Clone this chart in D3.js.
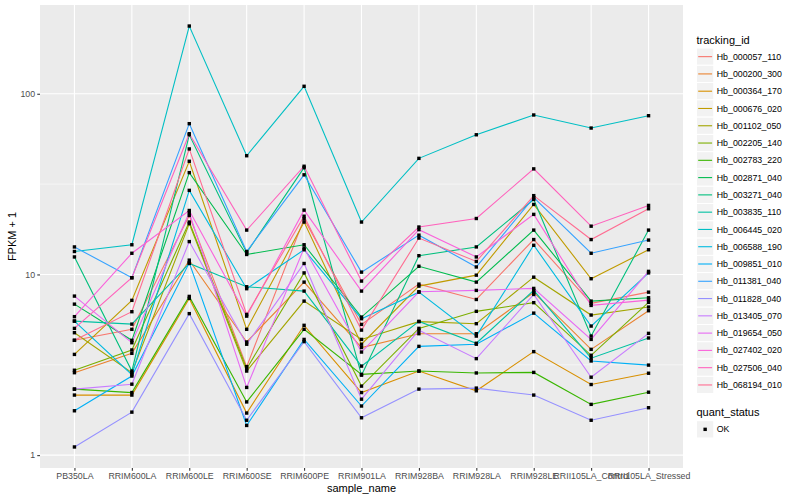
<!DOCTYPE html>
<html lang="en">
<head>
    <meta charset="UTF-8">
    <title>FPKM by sample</title>
    <script src="https://d3js.org/d3.v7.min.js"></script>
    <style>
        body { margin: 0; background: #fff; }
        svg { font-family: "Liberation Sans", Arial, sans-serif; display: block; }
    </style>
</head>
<body>
    <div id="chart"></div>

    <script>
        // Samples on the x axis
        const samples = ["PB350LA", "RRIM600LA", "RRIM600LE", "RRIM600SE", "RRIM600PE", "RRIM901LA",
            "RRIM928BA", "RRIM928LA", "RRIM928LE", "RRII105LA_Control", "RRII105LA_Stressed"];

        // FPKM + 1 per tracking id (one value per sample)
        const hb_000057_110 = [4.32, 4.97, 21.2, 3.09, 20.3, 5.29, 8.84, 7.27, 15.6, 6.92, 7.98];
        const hb_000200_300 = [2.86, 3.66, 12.0, 4.23, 9.07, 3.94, 4.70, 4.70, 7.95, 3.85, 6.30];
        const hb_000364_170 = [2.15, 2.15, 7.37, 1.71, 5.23, 2.22, 2.92, 2.27, 3.74, 2.46, 2.84];
        const hb_000676_020 = [3.61, 7.19, 42.3, 4.97, 19.5, 4.11, 8.62, 9.91, 24.4, 9.47, 13.7];
        const hb_001102_050 = [4.76, 2.86, 19.1, 2.92, 7.12, 4.37, 5.48, 5.34, 9.66, 5.96, 6.60];
        const hb_002205_140 = [2.95, 3.82, 19.5, 3.01, 10.2, 2.41, 5.03, 6.25, 6.98, 3.57, 7.01];
        const hb_002783_220 = [2.32, 2.22, 7.56, 1.97, 4.97, 2.80, 2.92, 2.85, 2.87, 1.91, 2.23];
        const hb_002871_040 = [6.85, 4.32, 36.6, 12.9, 14.6, 5.81, 11.1, 9.07, 17.6, 7.12, 7.43];
        const hb_003271_040 = [12.5, 2.92, 59.3, 13.2, 39.0, 2.77, 12.7, 14.2, 26.0, 4.56, 17.6];
        const hb_003835_110 = [5.52, 5.31, 11.5, 8.55, 8.09, 3.11, 5.50, 4.16, 8.16, 3.44, 4.45];
        const hb_006445_020 = [13.4, 14.6, 237, 45.4, 110, 19.5, 43.9, 59.3, 76.3, 64.6, 75.6];
        const hb_006588_190 = [5.52, 2.79, 29.2, 8.34, 13.7, 5.69, 7.98, 4.56, 14.5, 5.18, 10.2];
        const hb_009851_010 = [1.76, 2.74, 11.6, 1.46, 4.37, 1.87, 4.00, 4.11, 6.11, 3.32, 3.15];
        const hb_011381_040 = [14.2, 9.59, 68.3, 13.4, 35.6, 10.3, 16.5, 11.0, 26.6, 13.1, 15.5];
        const hb_011828_040 = [1.11, 1.73, 6.07, 1.56, 4.25, 1.61, 2.32, 2.35, 2.15, 1.56, 1.83];
        const hb_013405_070 = [2.32, 2.47, 15.2, 4.11, 11.5, 2.04, 4.91, 3.42, 7.75, 2.70, 4.72];
        const hb_019654_050 = [7.59, 4.19, 22.0, 2.37, 14.0, 3.72, 8.02, 8.16, 8.37, 4.37, 10.4];
        const hb_027402_020 = [5.84, 13.1, 22.6, 5.88, 22.7, 8.09, 17.7, 12.5, 21.5, 6.74, 7.21];
        const hb_027506_040 = [5.03, 9.59, 60.1, 17.6, 39.7, 9.19, 18.3, 20.4, 38.4, 18.5, 24.1];
        const hb_068194_010 = [4.32, 6.22, 49.5, 6.01, 21.0, 4.92, 15.9, 11.8, 27.3, 15.6, 23.1];

        const trackingIds = ["Hb_000057_110", "Hb_000200_300", "Hb_000364_170", "Hb_000676_020",
            "Hb_001102_050", "Hb_002205_140", "Hb_002783_220", "Hb_002871_040", "Hb_003271_040",
            "Hb_003835_110", "Hb_006445_020", "Hb_006588_190", "Hb_009851_010", "Hb_011381_040",
            "Hb_011828_040", "Hb_013405_070", "Hb_019654_050", "Hb_027402_020", "Hb_027506_040",
            "Hb_068194_010"];
        const seriesValues = [hb_000057_110, hb_000200_300, hb_000364_170, hb_000676_020,
            hb_001102_050, hb_002205_140, hb_002783_220, hb_002871_040, hb_003271_040,
            hb_003835_110, hb_006445_020, hb_006588_190, hb_009851_010, hb_011381_040,
            hb_011828_040, hb_013405_070, hb_019654_050, hb_027402_020, hb_027506_040,
            hb_068194_010];

        const yTicks = [1, 10, 100];
        const yMinorTicks = [Math.sqrt(10), Math.sqrt(1000)];
        const quantStatus = ["OK"];

        // ggplot default hue palette for 20 groups
        const palette = ["#F8766D", "#EA8331", "#D89000", "#C09B00", "#A3A500", "#7CAE00", "#39B600",
            "#00BB4E", "#00BF7D", "#00C1A3", "#00BFC4", "#00BAE0", "#00B0F6", "#35A2FF", "#9590FF",
            "#C77CFF", "#E76BF3", "#FA62DB", "#FF62BC", "#FF6C91"];

        function drawChart() {
            const width = 800, height = 500;
            const panel = {left: 40, right: 683, top: 5, bottom: 468};

            const svg = d3.select("#chart").append("svg")
                .attr("width", width)
                .attr("height", height);

            const series = trackingIds.map((id, i) => ({
                id: id,
                color: palette[i],
                values: seriesValues[i].map((v, j) => ({sample: samples[j], value: v}))
            }));

            // x: discrete, ggplot expands by 0.6 of a step on each side
            const x = d3.scalePoint()
                .domain(samples)
                .range([panel.left, panel.right])
                .padding(0.6);

            // y: log10 with 5% expansion
            const all = seriesValues.flat();
            const lo = Math.log10(d3.min(all)), hi = Math.log10(d3.max(all));
            const pad = (hi - lo) * 0.05;
            const y = d3.scaleLog()
                .domain([Math.pow(10, lo - pad), Math.pow(10, hi + pad)])
                .range([panel.bottom, panel.top]);

            // panel background + grid
            svg.append("rect")
                .attr("x", panel.left).attr("y", panel.top)
                .attr("width", panel.right - panel.left)
                .attr("height", panel.bottom - panel.top)
                .attr("fill", "#EBEBEB");

            svg.append("g").selectAll("line")
                .data(yMinorTicks)
                .enter().append("line")
                .attr("x1", panel.left).attr("x2", panel.right)
                .attr("y1", d => y(d)).attr("y2", d => y(d))
                .attr("stroke", "#fff").attr("stroke-width", 0.55);

            svg.append("g").selectAll("line")
                .data(yTicks)
                .enter().append("line")
                .attr("x1", panel.left).attr("x2", panel.right)
                .attr("y1", d => y(d)).attr("y2", d => y(d))
                .attr("stroke", "#fff").attr("stroke-width", 1.1);

            svg.append("g").selectAll("line")
                .data(samples)
                .enter().append("line")
                .attr("x1", d => x(d)).attr("x2", d => x(d))
                .attr("y1", panel.top).attr("y2", panel.bottom)
                .attr("stroke", "#fff").attr("stroke-width", 1.1);

            // lines
            const line = d3.line()
                .x(d => x(d.sample))
                .y(d => y(d.value));

            svg.append("g").selectAll("path")
                .data(series)
                .enter().append("path")
                .attr("d", d => line(d.values))
                .attr("fill", "none")
                .attr("stroke", d => d.color)
                .attr("stroke-width", 1.1);

            // points (black squares, quant_status = OK)
            const pts = series.flatMap(s => s.values);
            const ps = 3.4;
            svg.append("g").selectAll("rect")
                .data(pts)
                .enter().append("rect")
                .attr("x", d => x(d.sample) - ps / 2)
                .attr("y", d => y(d.value) - ps / 2)
                .attr("width", ps).attr("height", ps)
                .attr("fill", "#000");

            // axes
            const yAxis = svg.append("g")
                .attr("transform", `translate(${panel.left},0)`)
                .call(d3.axisLeft(y).tickValues(yTicks).tickFormat(d3.format("d")).tickSize(2.75).tickPadding(2.2));
            const xAxis = svg.append("g")
                .attr("transform", `translate(0,${panel.bottom})`)
                .call(d3.axisBottom(x).tickSize(2.75).tickPadding(2.2));

            [yAxis, xAxis].forEach(ax => {
                ax.select(".domain").remove();
                ax.selectAll(".tick line").attr("stroke", "#333333").attr("stroke-width", 1.07);
                ax.selectAll(".tick text")
                    .attr("fill", "#4D4D4D")
                    .style("font-size", "8.8px")
                    .style("font-family", "'Liberation Sans', Arial, sans-serif");
            });

            // axis titles
            svg.append("text")
                .attr("x", (panel.left + panel.right) / 2)
                .attr("y", 491.5)
                .attr("text-anchor", "middle")
                .style("font-size", "11px")
                .text("sample_name");

            svg.append("text")
                .attr("transform", `translate(15.5,${(panel.top + panel.bottom) / 2}) rotate(-90)`)
                .attr("text-anchor", "middle")
                .style("font-size", "11px")
                .text("FPKM + 1");

            // legend: tracking_id
            const keySize = 17.28;
            const legX = 696.5;
            const legend = svg.append("g");
            legend.append("text")
                .attr("x", legX).attr("y", 43.5)
                .style("font-size", "11px")
                .text("tracking_id");

            const keys = legend.selectAll("g.key")
                .data(series)
                .enter().append("g")
                .attr("class", "key")
                .attr("transform", (d, i) => `translate(${legX},${48 + i * keySize})`);
            keys.append("rect")
                .attr("width", keySize).attr("height", keySize)
                .attr("fill", "#F2F2F2").attr("stroke", "#fff").attr("stroke-width", 1);
            keys.append("line")
                .attr("x1", 1.7).attr("x2", keySize - 1.7)
                .attr("y1", keySize / 2).attr("y2", keySize / 2)
                .attr("stroke", d => d.color).attr("stroke-width", 1.1);
            keys.append("text")
                .attr("x", keySize + 3).attr("y", keySize / 2)
                .attr("dy", "0.35em")
                .style("font-size", "8.8px")
                .text(d => d.id);

            // legend: quant_status
            legend.append("text")
                .attr("x", legX).attr("y", 416)
                .style("font-size", "11px")
                .text("quant_status");
            const qk = legend.selectAll("g.qkey")
                .data(quantStatus)
                .enter().append("g")
                .attr("class", "qkey")
                .attr("transform", (d, i) => `translate(${legX},${420.7 + i * keySize})`);
            qk.append("rect")
                .attr("width", keySize).attr("height", keySize)
                .attr("fill", "#F2F2F2").attr("stroke", "#fff").attr("stroke-width", 1);
            qk.append("rect")
                .attr("x", keySize / 2 - ps / 2).attr("y", keySize / 2 - ps / 2)
                .attr("width", ps).attr("height", ps)
                .attr("fill", "#000");
            qk.append("text")
                .attr("x", keySize + 3).attr("y", keySize / 2)
                .attr("dy", "0.35em")
                .style("font-size", "8.8px")
                .text(d => d);
        }

        document.addEventListener('DOMContentLoaded', drawChart);
    </script>
</body>
</html>
